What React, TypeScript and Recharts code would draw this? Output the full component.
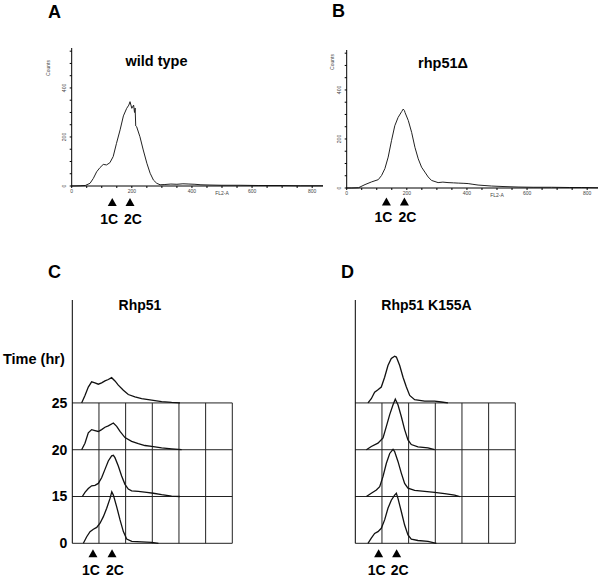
import React from 'react'
import { LineChart, Line, XAxis, YAxis, ReferenceLine, ReferenceDot } from 'recharts'

const FONT = '"Liberation Sans", Arial, Helvetica, sans-serif'

const wildType: [number, number][] = [
    [0, 0], [28, 1], [45, 2], [61, 11], [72, 31], [83, 58], [94, 75], [105, 88], [116, 86],
    [127, 95], [138, 120], [149, 174], [161, 229], [172, 286], [183, 317], [190, 330], [194, 344],
    [200, 317], [206, 330], [209, 300], [211, 318], [213, 245], [216, 242], [227, 201], [238, 147],
    [250, 93], [261, 52], [272, 24], [283, 11], [294, 5], [310, 6], [330, 8], [350, 7], [370, 9],
    [390, 8], [410, 7], [430, 5], [460, 4], [500, 3], [560, 3], [620, 2], [700, 2], [760, 1], [836, 1],
]

const rhp51Delta: [number, number][] = [
    [0, 0], [17, 0], [39, 1], [61, 14], [83, 25], [105, 34], [116, 51], [127, 79], [138, 126],
    [149, 193], [160, 254], [171, 288], [183, 312], [188, 322], [192, 316], [194, 308], [205, 275],
    [216, 227], [227, 166], [238, 119], [249, 85], [260, 65], [271, 45], [282, 31], [304, 22],
    [320, 24], [337, 22], [355, 21], [371, 20], [390, 19], [404, 18], [420, 15], [437, 12],
    [460, 10], [482, 8], [520, 6], [570, 4], [620, 3], [681, 3], [740, 2], [780, 2], [836, 1],
]

// time course panels (x in channel units, y in relative counts)
const rhp51H0: [number, number][] = [
    [83, 0], [108, 14], [133, 25], [158, 30], [183, 34], [208, 43], [233, 57], [258, 75], [283, 96],
    [296, 110], [308, 103], [333, 78], [358, 50], [383, 25], [408, 9], [446, 4], [521, 3], [596, 2], [646, 0],
]
const rhp51H15: [number, number][] = [
    [75, 0], [95, 9], [120, 17], [145, 23], [170, 24], [195, 28], [220, 40], [245, 58], [270, 76],
    [295, 87], [308, 88], [320, 83], [345, 65], [370, 44], [395, 26], [420, 16], [445, 12], [495, 11],
    [558, 9], [608, 7], [670, 4], [745, 1], [808, 0],
]
const rhp51H20: [number, number][] = [
    [70, 0], [95, 14], [120, 36], [145, 43], [170, 41], [195, 39], [220, 43], [245, 48], [270, 51],
    [308, 57], [333, 50], [358, 39], [395, 26], [445, 18], [495, 13], [545, 9], [595, 7], [670, 4],
    [745, 2], [820, 0],
]
const rhp51H25: [number, number][] = [
    [70, 0], [95, 16], [120, 34], [145, 45], [170, 43], [195, 40], [220, 43], [245, 47], [270, 50],
    [295, 54], [320, 47], [345, 38], [383, 27], [420, 18], [470, 13], [520, 9], [595, 6], [670, 3],
    [745, 1], [808, 0],
]

const k155aH0: [number, number][] = [
    [95, 0], [120, 11], [145, 21], [170, 25], [195, 32], [220, 50], [245, 75], [270, 92], [295, 103],
    [308, 107], [320, 96], [345, 68], [370, 39], [395, 18], [420, 9], [470, 6], [545, 4], [608, 0],
]
const k155aH15: [number, number][] = [
    [83, 0], [120, 7], [158, 14], [183, 21], [208, 43], [233, 71], [258, 92], [283, 101], [295, 96],
    [320, 75], [345, 50], [370, 28], [395, 18], [445, 13], [520, 11], [595, 9], [670, 6], [745, 3], [783, 0],
]
const k155aH20: [number, number][] = [
    [83, 0], [120, 7], [170, 14], [208, 25], [233, 50], [258, 75], [283, 96], [300, 108], [320, 96],
    [345, 71], [370, 43], [395, 21], [420, 11], [470, 6], [545, 4], [595, 0],
]
const k155aH25: [number, number][] = [
    [95, 0], [120, 9], [145, 23], [170, 28], [195, 34], [220, 55], [245, 80], [270, 95], [295, 100],
    [308, 98], [333, 80], [358, 55], [383, 34], [408, 16], [445, 7], [520, 4], [595, 4], [645, 2], [695, 0],
]

const timeLabels = ['0', '15', '20', '25']
const rowOffsets = [0, 100, 200, 300]
const gridX = [200, 400, 600, 800, 1000, 1200]

const flTicks = [0, 50, 100, 150, 200, 250, 300, 350, 400, 450, 500, 550, 600, 650, 700, 750, 800]
const countTicks = [0, 50, 100, 150, 200, 250, 300, 350, 400, 450, 500, 550]

const markersA = [{ label: '1C', x: 135, dx: -3 }, { label: '2C', x: 194, dx: 3 }]
const markersB = [{ label: '1C', x: 132, dx: -3 }, { label: '2C', x: 192, dx: 3 }]
const markersC = [{ label: '1C', x: 155, dx: -2 }, { label: '2C', x: 298, dx: 3 }]
const markersD = [{ label: '1C', x: 175, dx: -2 }, { label: '2C', x: 310, dx: 3 }]

function Arrow({ cx, cy, label, dx, triTop, textY }: any) {
    return (
        <g>
            <polygon
                points={`${cx - 4.5},${cy + triTop + 8} ${cx + 4.5},${cy + triTop + 8} ${cx},${cy + triTop}`}
                fill="#000"
            />
            <text x={cx + dx} y={cy + textY} textAnchor="middle" fontSize={14} fontWeight="bold" fontFamily={FONT} fill="#000">
                {label}
            </text>
        </g>
    )
}

function FlTick({ x, y, payload }: any) {
    if (payload.value % 200 !== 0) return <g />
    return (
        <text x={x} y={y + 4} textAnchor="middle" fontSize={5} fill="#444" fontFamily={FONT}>
            {payload.value}
        </text>
    )
}

function CountTick({ x, y, payload }: any) {
    if (payload.value % 200 !== 0) return <g />
    const tx = x - 3
    return (
        <text x={tx} y={y} transform={`rotate(-90 ${tx} ${y})`} textAnchor="middle" fontSize={5} fill="#444" fontFamily={FONT}>
            {payload.value}
        </text>
    )
}

function FlowPanel({ hist, markers, left, top, triTop, textY }: any) {
    const data = hist.map(([x, c]: [number, number]) => ({ x, c }))
    return (
        <div style={{ position: 'absolute', left, top }}>
            <LineChart width={330} height={230} data={data} margin={{ top: 48, right: 7, left: 51.7, bottom: 34 }}>
                <XAxis
                    dataKey="x"
                    type="number"
                    domain={[0, 836]}
                    ticks={flTicks}
                    interval={0}
                    tick={<FlTick />}
                    tickSize={2}
                    tickMargin={1}
                    height={10}
                    stroke="#000"
                />
                <YAxis
                    type="number"
                    domain={[0, 563]}
                    ticks={countTicks}
                    interval={0}
                    tick={<CountTick />}
                    tickSize={2}
                    tickMargin={1}
                    width={20}
                    stroke="#000"
                />
                <Line dataKey="c" type="linear" dot={false} stroke="#222" strokeWidth={1} isAnimationActive={false} />
                {markers.map((m: any) => (
                    <ReferenceDot
                        key={m.label}
                        x={m.x}
                        y={0}
                        shape={(p: any) => <Arrow cx={p.cx} cy={p.cy} label={m.label} dx={m.dx} triTop={triTop} textY={textY} />}
                    />
                ))}
            </LineChart>
        </div>
    )
}

function TimeCoursePanel({ rows, markers, left, showLabels }: any) {
    return (
        <div style={{ position: 'absolute', left, top: 250 }}>
            <LineChart width={250} height={330} margin={{ top: 50, right: 17.7, left: 42.3, bottom: 36.7 }}>
                <XAxis type="number" dataKey="x" domain={[0, 1200]} hide />
                <YAxis
                    type="number"
                    domain={[0, 520]}
                    ticks={rowOffsets}
                    interval={0}
                    tickFormatter={(v: number) => timeLabels[rowOffsets.indexOf(v)]}
                    tick={showLabels ? { fontSize: 14, fontWeight: 'bold', fill: '#000', fontFamily: FONT } : false}
                    tickLine={false}
                    tickSize={3}
                    tickMargin={2}
                    width={30}
                    stroke="#000"
                />
                {rowOffsets.map((b) => (
                    <ReferenceLine key={'h' + b} y={b} stroke="#222" strokeWidth={1} />
                ))}
                {gridX.map((gx) => (
                    <ReferenceLine key={'v' + gx} segment={[{ x: gx, y: 0 }, { x: gx, y: 300 }]} stroke="#222" strokeWidth={1} />
                ))}
                {rows.map((row: [number, number][], i: number) => (
                    <Line
                        key={i}
                        data={row.map(([x, c]) => ({ x, v: rowOffsets[i] + c }))}
                        dataKey="v"
                        type="linear"
                        dot={false}
                        stroke="#111"
                        strokeWidth={1.3}
                        isAnimationActive={false}
                    />
                ))}
                {markers.map((m: any) => (
                    <ReferenceDot
                        key={m.label}
                        x={m.x}
                        y={0}
                        shape={(p: any) => <Arrow cx={p.cx} cy={p.cy} label={m.label} dx={m.dx} triTop={6} textY={32} />}
                    />
                ))}
            </LineChart>
        </div>
    )
}

export default function App() {
    const bold = { fontFamily: FONT, fontWeight: 'bold' as const, fill: '#000' }
    return (
        <div style={{ position: 'absolute', left: 0, top: 0, width: 601, height: 578, background: '#fff', overflow: 'hidden' }}>
            <FlowPanel hist={wildType} markers={markersA} left={0} top={0} triTop={12} textY={38} />
            <FlowPanel hist={rhp51Delta} markers={markersB} left={275} top={1.7} triTop={9.5} textY={34} />
            <TimeCoursePanel rows={[rhp51H0, rhp51H15, rhp51H20, rhp51H25]} markers={markersC} left={0} showLabels />
            <TimeCoursePanel rows={[k155aH0, k155aH15, k155aH20, k155aH25]} markers={markersD} left={283.4} showLabels={false} />
            <svg width={601} height={578} style={{ position: 'absolute', left: 0, top: 0, pointerEvents: 'none' }}>
                <text x={48} y={18} fontSize={18} {...bold}>A</text>
                <text x={332} y={17} fontSize={18} {...bold}>B</text>
                <text x={48} y={278} fontSize={18} {...bold}>C</text>
                <text x={341} y={278} fontSize={18} {...bold}>D</text>
                <text x={156.5} y={66} fontSize={14.5} textAnchor="middle" {...bold}>wild type</text>
                <text x={443} y={67.7} fontSize={14.5} textAnchor="middle" {...bold}>rhp51Δ</text>
                <text x={140} y={310} fontSize={14} textAnchor="middle" {...bold}>Rhp51</text>
                <text x={426.5} y={310} fontSize={14} textAnchor="middle" {...bold}>Rhp51 K155A</text>
                <text x={3} y={363.5} fontSize={14.5} {...bold}>Time (hr)</text>
                <text x={50} y={68} fontSize={5} fill="#444" fontFamily={FONT} textAnchor="middle" transform="rotate(-90 50 68)">Counts</text>
                <text x={334} y={62} fontSize={5} fill="#444" fontFamily={FONT} textAnchor="middle" transform="rotate(-90 334 62)">Counts</text>
                <text x={222} y={195} fontSize={5} fill="#444" fontFamily={FONT} textAnchor="middle">FL2-A</text>
                <text x={497} y={196.7} fontSize={5} fill="#444" fontFamily={FONT} textAnchor="middle">FL2-A</text>
            </svg>
        </div>
    )
}
